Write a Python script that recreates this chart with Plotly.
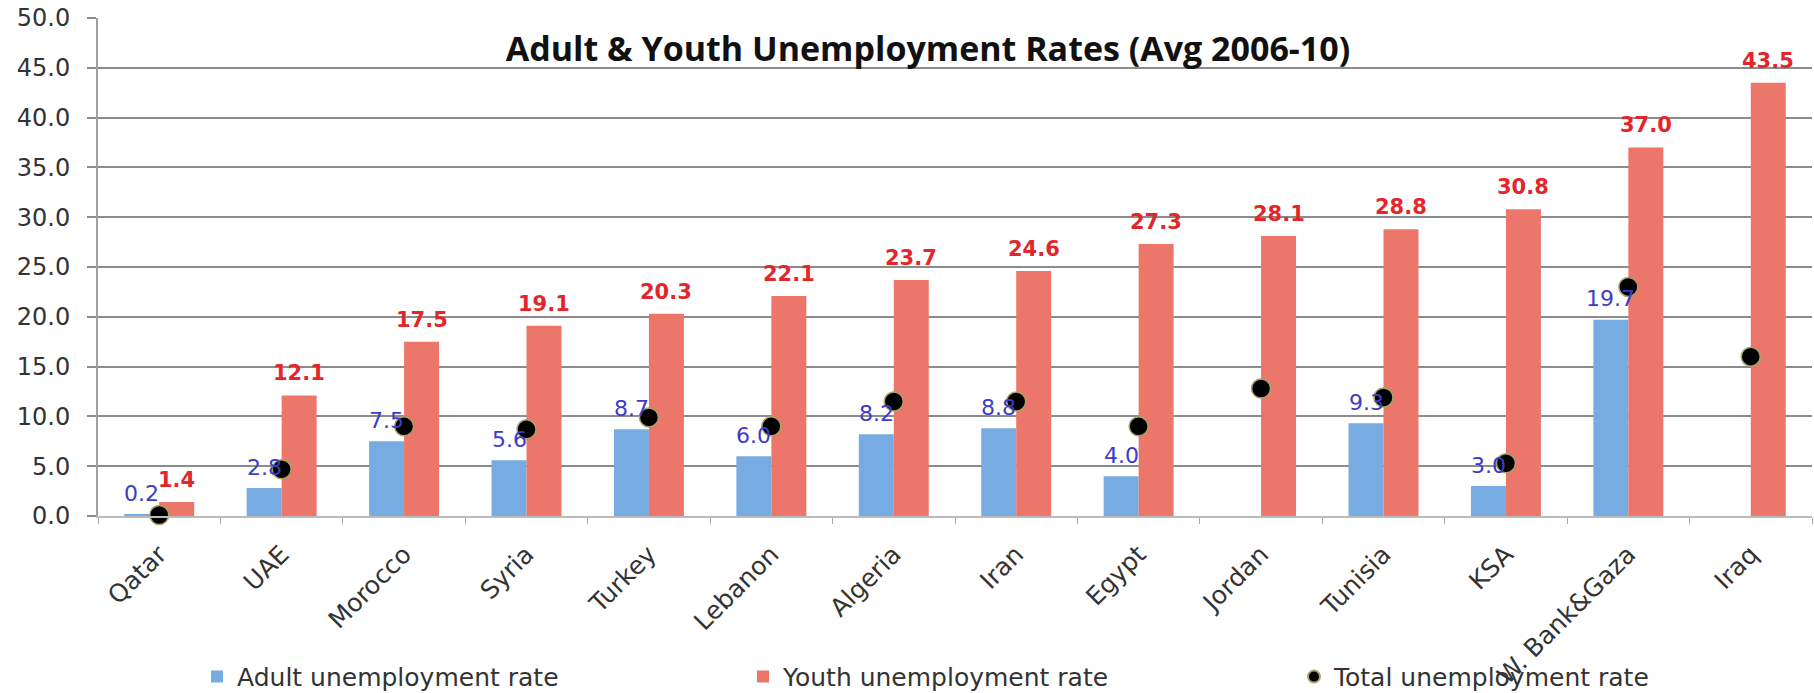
import plotly.graph_objects as go

countries = ["Qatar", "UAE", "Morocco", "Syria", "Turkey", "Lebanon", "Algeria",
             "Iran", "Egypt", "Jordan", "Tunisia", "KSA", "W. Bank&Gaza", "Iraq"]
adult = [0.2, 2.8, 7.5, 5.6, 8.7, 6.0, 8.2, 8.8, 4.0, None, 9.3, 3.0, 19.7, None]
youth = [1.4, 12.1, 17.5, 19.1, 20.3, 22.1, 23.7, 24.6, 27.3, 28.1, 28.8, 30.8, 37.0, 43.5]
total = [0.1, 4.7, 9.0, 8.7, 9.9, 9.0, 11.5, 11.5, 9.0, 12.8, 11.9, 5.3, 23.0, 16.0]
y_ticks = [0, 5, 10, 15, 20, 25, 30, 35, 40, 45, 50]

BASE_FONT = "DejaVu Sans"
BLUE = "#76ace2"
RED = "#ec766a"
BLUE_TXT = "#3c3cc8"
RED_TXT = "#e3262b"

fig = go.Figure()
fig.add_trace(go.Bar(x=countries, y=adult, name="Adult unemployment rate",
                     marker=dict(color=BLUE, line=dict(width=0)), legend="legend"))
fig.add_trace(go.Bar(x=countries, y=youth, name="Youth unemployment rate",
                     marker=dict(color=RED, line=dict(width=0)), legend="legend2"))
fig.add_trace(go.Scatter(x=countries, y=total, name="Total unemployment rate",
                         mode="markers", legend="legend3", cliponaxis=False,
                         marker=dict(color="#000000", size=19,
                                     line=dict(color="#a8a46a", width=1.5))))

annotations = []
for c, v in zip(countries, adult):
    if v is None:
        continue
    annotations.append(dict(x=c, y=v, xref="x", yref="y", text=f"{v:.1f}",
                            showarrow=False, xshift=-17.5, yshift=21,
                            yanchor="middle",
                            font=dict(family=BASE_FONT, size=22, color=BLUE_TXT)))
for c, v in zip(countries, youth):
    annotations.append(dict(x=c, y=v, xref="x", yref="y", text=f"<b>{v:.1f}</b>",
                            showarrow=False, xshift=17.5, yshift=22,
                            yanchor="middle",
                            font=dict(family=BASE_FONT, size=21, color=RED_TXT)))

legend_common = dict(orientation="h", xanchor="left", y=-0.323, yanchor="middle",
                     font=dict(family=BASE_FONT, size=25, color="#333333"),
                     itemsizing="constant", bgcolor="rgba(0,0,0,0)")

fig.update_layout(
    width=1814, height=693,
    margin=dict(l=98, r=2, t=18, b=177, autoexpand=False),
    paper_bgcolor="white", plot_bgcolor="white",
    barmode="group", bargap=0.4286, bargroupgap=0,
    font=dict(family=BASE_FONT, size=22, color="#333333"),
    title=dict(text="<b>Adult & Youth Unemployment Rates (Avg 2006-10)</b>",
               x=928 / 1814, xanchor="center", xref="container",
               y=1 - 49 / 693, yanchor="middle", yref="container",
               font=dict(family="Open Sans", size=34, color="#111111")),
    showlegend=True,
    legend=dict(x=(197 - 98) / 1714, **legend_common),
    legend2=dict(x=(743 - 98) / 1714, **legend_common),
    legend3=dict(x=(1294 - 98) / 1714, **legend_common),
    annotations=annotations,
)
fig.update_xaxes(type="category", categoryorder="array", categoryarray=countries,
                 range=[-0.5, len(countries) - 0.5], automargin=False,
                 tickangle=-45, tickfont=dict(family=BASE_FONT, size=25, color="#333333"),
                 showline=True, linecolor="#bbbbbb", linewidth=1.5,
                 ticks="outside", tickson="boundaries", ticklen=6, tickcolor="#aaaaaa",
                 ticklabelstandoff=12, showgrid=False)
fig.update_yaxes(range=[0, 50], tickvals=y_ticks, tickformat=".1f", automargin=False,
                 tickfont=dict(family=BASE_FONT, size=24, color="#333333"),
                 showgrid=True, gridcolor="#8c8c8c", gridwidth=1.5,
                 showline=True, linecolor="#a0a0a0", linewidth=2,
                 ticks="outside", ticklen=9, tickcolor="#8c8c8c", tickwidth=1.5,
                 ticklabelstandoff=12, zeroline=False)

fig.write_html("out.html")
